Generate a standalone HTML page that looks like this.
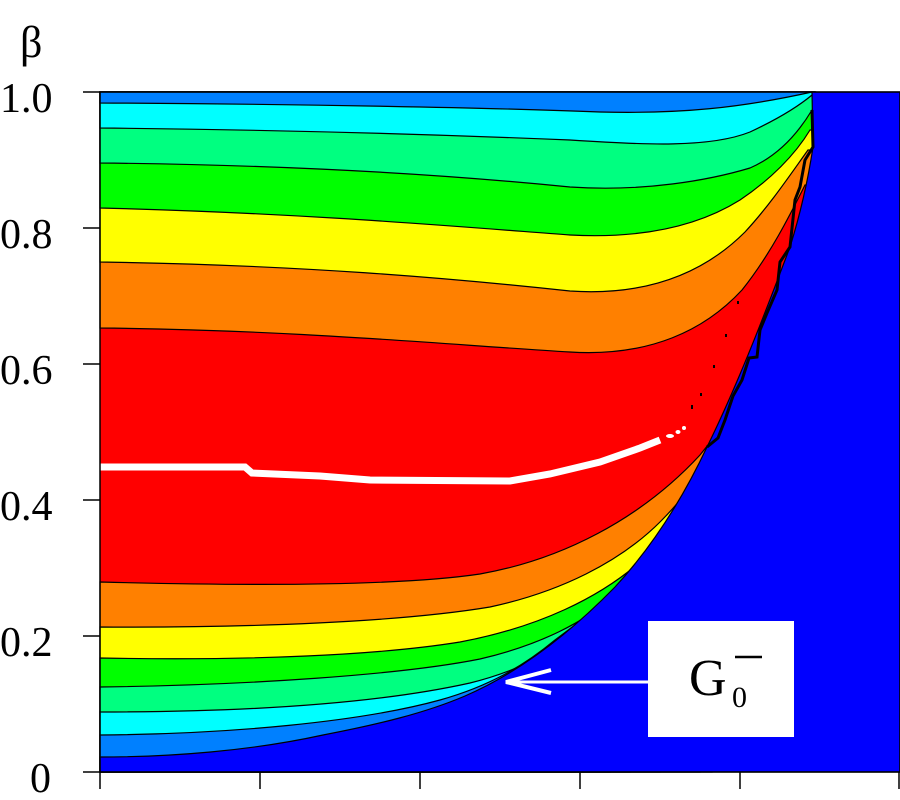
<!DOCTYPE html>
<html><head><style>
html,body{margin:0;padding:0;background:#fff;}
svg{display:block;}
.t{font-family:"Liberation Serif","Times New Roman",Times,serif;fill:#000;}
</style></head><body>
<svg width="900" height="800" viewBox="0 0 900 800" xmlns="http://www.w3.org/2000/svg">
<rect x="0" y="0" width="900" height="800" fill="#fff"/>
<rect x="100" y="92" width="800" height="680" fill="#ff0000"/>
<g stroke="#000" stroke-width="1.2">
<path fill="#ff8000" d="M100,328 C300,330 450,345 570,352 C650,357 705,330 742,290 C770,255 790,215 805,185 L815,185 L815,92 L100,92 Z"/>
<path fill="#ffff00" d="M100,262 C300,265 450,278 570,291 C645,296 702,275 745,232 C770,205 790,175 808,150 L815,150 L815,92 L100,92 Z"/>
<path fill="#00ff00" d="M100,208 C300,213 450,226 570,235 C645,239 700,225 740,200 C770,180 795,155 810,130 L815,130 L815,92 L100,92 Z"/>
<path fill="#00ff80" d="M100,163 C300,165 450,175 570,187 C645,192 710,180 750,168 C780,155 800,130 812,110 L815,110 L815,92 L100,92 Z"/>
<path fill="#00ffff" d="M100,128 C300,130 450,135 570,140 C645,145 710,148 750,132 C780,118 800,105 812,95 L815,92 L100,92 Z"/>
<path fill="#0080ff" d="M100,103 C300,104 500,108 600,112 C680,114 740,108 812,92 L100,92 Z"/>
<path fill="#ff8000" d="M100,582 C250,586 400,586 480,574 C560,560 640,520 700,455 L712,440 L712,772 L100,772 Z"/>
<path fill="#ffff00" d="M100,627 C250,628 400,622 490,607 C560,592 620,562 660,522 C680,502 695,482 700,472 L700,772 L100,772 Z"/>
<path fill="#00ff00" d="M100,658 C250,661 380,655 460,642 C540,627 600,597 640,562 L660,537 L660,772 L100,772 Z"/>
<path fill="#00ff80" d="M100,687 C250,685 400,675 480,659 C540,645 585,622 615,595 L630,580 L630,772 L100,772 Z"/>
<path fill="#00ffff" d="M100,712 C250,712 380,703 470,683 C530,668 570,643 598,614 L610,602 L610,772 L100,772 Z"/>
<path fill="#0080ff" d="M100,735 C230,734 360,722 440,700 C490,686 525,665 555,640 L575,625 L575,772 L100,772 Z"/>
<path fill="#0000ff" d="M812,92 L900,92 L900,772 L100,772 L100,757 C170,757 250,751 323,735 C380,724 425,713 465,696 C525,670 575,628 615,587 C652,547 682,500 707,447 C740,380 770,300 790,247 C800,215 808,180 813,147 L812,92 Z"/>
</g>
<polyline fill="none" stroke="#000" stroke-width="3" points="812,110 813,147 805,160 800,187 795,200 790,247 780,262 777,290 767,313 760,330 757,357 749,358 742,380 733,396 725,420 718,438 707,447"/>
<polyline fill="none" stroke="#fff" stroke-width="7" points="100,467 245,467 252,473 320,476 370,480 510,481 550,474 600,462 640,448 660,440"/>
<g fill="#fff"><ellipse cx="670" cy="436" rx="4" ry="2"/><ellipse cx="678" cy="432" rx="2.5" ry="2"/><ellipse cx="684" cy="428" rx="2" ry="2"/></g>
<g fill="#000"><rect x="691" y="405" width="2" height="4"/><rect x="700" y="393" width="2" height="3"/><rect x="713" y="365" width="2" height="3"/><rect x="725" y="334" width="2" height="3"/><rect x="737" y="301" width="2" height="3"/></g>
<rect x="100" y="92" width="800" height="680" fill="none" stroke="#000" stroke-width="1.5"/>
<g stroke="#000" stroke-width="1.5">
<line x1="83" y1="92" x2="100" y2="92"/><line x1="83" y1="228" x2="100" y2="228"/><line x1="83" y1="364" x2="100" y2="364"/><line x1="83" y1="500" x2="100" y2="500"/><line x1="83" y1="636" x2="100" y2="636"/><line x1="83" y1="772" x2="100" y2="772"/>
<line x1="100" y1="772" x2="100" y2="789"/><line x1="260" y1="772" x2="260" y2="789"/><line x1="420" y1="772" x2="420" y2="789"/><line x1="580" y1="772" x2="580" y2="789"/><line x1="740" y1="772" x2="740" y2="789"/><line x1="899" y1="772" x2="899" y2="789"/>
</g>
<g font-size="42" class="t">
<text class="t" x="0" y="112">1.0</text>
<text class="t" x="0" y="248">0.8</text>
<text class="t" x="0" y="384">0.6</text>
<text class="t" x="0" y="520">0.4</text>
<text class="t" x="0" y="656">0.2</text>
<text class="t" x="30" y="792">0</text>
</g>
<text class="t" x="20" y="57" font-size="44">β</text>
<rect x="648" y="621" width="146" height="116" fill="#fff"/>
<line x1="506" y1="682" x2="648" y2="682" stroke="#fff" stroke-width="3"/>
<polyline points="551,670 506,682 551,693" fill="none" stroke="#fff" stroke-width="4"/>
<text class="t" x="689" y="695" font-size="52">G</text>
<text class="t" x="732" y="707" font-size="30">0</text>
<line x1="735" y1="657" x2="762" y2="657" stroke="#000" stroke-width="2.5"/>
</svg>
</body></html>
